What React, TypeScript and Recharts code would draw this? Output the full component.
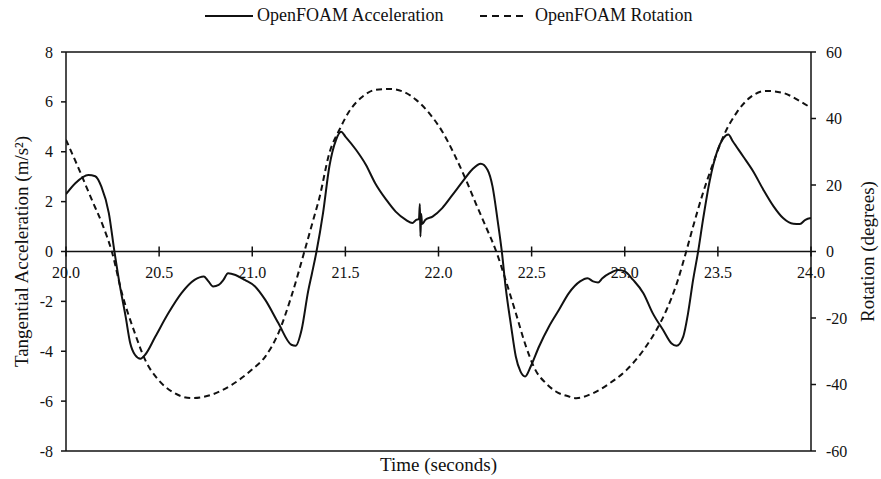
import { LineChart, Line, XAxis, YAxis, ReferenceLine, Label } from 'recharts';

// Tangential acceleration (m/s²), sampled in seconds
const accTime = [
  20.0, 20.05, 20.12, 20.157, 20.19, 20.23, 20.26, 20.29, 20.32, 20.345, 20.37, 20.4, 20.425,
  20.48, 20.55, 20.62, 20.69, 20.74, 20.765, 20.79, 20.82, 20.845, 20.87, 20.91, 20.96, 21.015,
  21.07, 21.14, 21.21, 21.233, 21.265, 21.3, 21.32, 21.345, 21.38, 21.414, 21.45, 21.477, 21.5,
  21.557, 21.61, 21.66, 21.72, 21.77, 21.825, 21.86, 21.88, 21.895, 21.9, 21.903, 21.907, 21.912,
  21.93, 21.968, 22.02, 22.075, 22.13, 22.18, 22.227, 22.263, 22.29, 22.317, 22.34, 22.36, 22.39,
  22.415, 22.44, 22.465, 22.495, 22.54, 22.594, 22.647, 22.7, 22.76, 22.8, 22.83, 22.857, 22.88,
  22.92, 22.964, 23.0, 23.045, 23.1, 23.15, 23.206, 23.25, 23.278, 23.314, 23.34, 23.367, 23.394,
  23.42, 23.457, 23.493, 23.53, 23.556, 23.58, 23.636, 23.69, 23.744, 23.8, 23.85, 23.905, 23.94,
  23.97, 24.0,
];
const accValue = [
  2.3, 2.74, 3.07, 3.02, 2.6, 1.54, 0, -1.4, -2.6, -3.68, -4.14, -4.3, -4.14,
  -3.41, -2.47, -1.67, -1.14, -1.0, -1.2, -1.4, -1.34, -1.14, -0.87, -0.94, -1.14, -1.4,
  -1.94, -2.87, -3.74, -3.78, -3.14, -1.6, -0.9, 0, 1.54, 3.41, 4.48, 4.8, 4.61,
  4.08, 3.48, 2.74, 2.07, 1.6, 1.27, 1.14, 1.27, 1.3, 1.9, 0.6, 1.5, 1.1,
  1.27, 1.4, 1.74, 2.27, 2.81, 3.28, 3.52, 3.28, 2.61, 1.27, 0, -1.4, -3.0,
  -4.21, -4.81, -5.01, -4.61, -3.81, -3.0, -2.34, -1.67, -1.2, -1.07, -1.2, -1.24, -1.07,
  -0.87, -0.74, -0.8, -1.14, -1.67, -2.47, -3.15, -3.68, -3.78, -3.41, -2.47, -1.14, 0,
  1.27, 2.87, 3.94, 4.55, 4.69, 4.42, 3.81, 3.21, 2.48, 1.8, 1.34, 1.11, 1.1,
  1.27, 1.34,
];

// Rotation (degrees)
const rotTime = [
  20.0, 20.067, 20.139, 20.2, 20.246, 20.3, 20.37, 20.425, 20.496, 20.568, 20.675, 20.78, 20.89,
  20.997, 21.07, 21.14, 21.21, 21.28, 21.33, 21.36, 21.414, 21.468, 21.52, 21.593, 21.66, 21.736,
  21.81, 21.88, 21.95, 22.02, 22.09, 22.147, 22.2, 22.254, 22.31, 22.36, 22.415, 22.47, 22.52,
  22.576, 22.63, 22.7, 22.74, 22.83, 22.92, 23.01, 23.1, 23.17, 23.224, 23.28, 23.33, 23.367,
  23.42, 23.475, 23.53, 23.6, 23.67, 23.76, 23.85, 23.94, 24.0,
];
const rotValue = [
  33.6, 25.1, 15.5, 7.5, 0, -12.5, -24.6, -32.6, -38.6, -42.1, -44.1, -43.1, -40.1,
  -35.6, -31.6, -24.6, -13.5, 0, 10, 16, 29.6, 36.6, 42.1, 46.6, 48.6, 48.9,
  48.1, 45.6, 41.6, 36.1, 28.6, 21.6, 14.5, 7.5, 0, -8.5, -18.5, -28.6, -35.6,
  -39.6, -42.1, -43.6, -44.1, -42.6, -39.6, -35.6, -29.7, -23.6, -17.6, -9.5, 0, 7.5,
  17.6, 26.6, 34.7, 41.7, 46.2, 48.3, 47.7, 45.2, 43.2,
];

const timeTicks = [20, 20.5, 21, 21.5, 22, 22.5, 23, 23.5, 24];
const accTicks = [-8, -6, -4, -2, 0, 2, 4, 6, 8];
const rotTicks = [-60, -40, -20, 0, 20, 40, 60];

const accData = accTime.map((t, i) => ({ t, acc: accValue[i] }));
const rotData = rotTime.map((t, i) => ({ t, rot: rotValue[i] }));

const W = 881;
const H = 479;
const TOP = 52;
const BOTTOM = 451;
const ZERO_Y = (TOP + BOTTOM) / 2;
const FONT = "'Liberation Serif', 'Times New Roman', serif";
const INK = '#111';

// x ticks sit on the zero line rather than on the bottom frame
const ZeroLineTick = (props: any) => {
  const { x, payload } = props;
  return (
    <g>
      <line x1={x} x2={x} y1={ZERO_Y - 5} y2={ZERO_Y + 5} stroke={INK} strokeWidth={1.5} />
      <text x={x} y={ZERO_Y + 26} textAnchor="middle" fontFamily={FONT} fontSize={16} fill={INK}>
        {Number(payload.value).toFixed(1)}
      </text>
    </g>
  );
};

const SideTick = (props: any) => {
  const { x, y, payload, textAnchor } = props;
  return (
    <text
      x={x}
      y={y}
      textAnchor={textAnchor}
      dominantBaseline="central"
      fontFamily={FONT}
      fontSize={16}
      fill={INK}
    >
      {payload.value}
    </text>
  );
};

const LegendRow = () => (
  <svg width={W} height={34} style={{ position: 'absolute', left: 0, top: 0 }}>
    <line x1={205} x2={253} y1={16} y2={16} stroke={INK} strokeWidth={2} />
    <text x={257} y={21} fontFamily={FONT} fontSize={18} fill={INK}>
      OpenFOAM Acceleration
    </text>
    <line x1={480} x2={528} y1={16} y2={16} stroke={INK} strokeWidth={2} strokeDasharray="7 5" />
    <text x={535} y={21} fontFamily={FONT} fontSize={18} fill={INK}>
      OpenFOAM Rotation
    </text>
  </svg>
);

export default function App() {
  return (
    <div style={{ position: 'absolute', left: 0, top: 0, width: W, height: H, background: '#fff' }}>
      <LineChart width={W} height={H} margin={{ top: TOP, right: 20, bottom: 0, left: 20 }}>
        <XAxis
          dataKey="t"
          type="number"
          domain={[20, 24]}
          ticks={timeTicks}
          allowDataOverflow
          height={H - BOTTOM}
          tickLine={false}
          axisLine={{ stroke: INK, strokeWidth: 1.5 }}
          tick={<ZeroLineTick />}
        >
          <Label
            content={() => (
              <text x={438.5} y={471} textAnchor="middle" fontFamily={FONT} fontSize={19} fill={INK}>
                Time (seconds)
              </text>
            )}
          />
        </XAxis>
        <YAxis
          yAxisId="acc"
          orientation="left"
          domain={[-8, 8]}
          ticks={accTicks}
          width={46}
          axisLine={{ stroke: INK, strokeWidth: 1.5 }}
          tickLine={{ stroke: INK, strokeWidth: 1.5 }}
          tickSize={5}
          tickMargin={8}
          tick={<SideTick />}
        >
          <Label
            content={() => (
              <text
                x={21}
                y={ZERO_Y}
                transform={`rotate(-90, 21, ${ZERO_Y})`}
                textAnchor="middle"
                dominantBaseline="central"
                fontFamily={FONT}
                fontSize={19}
                fill={INK}
              >
                Tangential Acceleration (m/s²)
              </text>
            )}
          />
        </YAxis>
        <YAxis
          yAxisId="rot"
          orientation="right"
          domain={[-60, 60]}
          ticks={rotTicks}
          width={50}
          axisLine={{ stroke: INK, strokeWidth: 1.5 }}
          tickLine={{ stroke: INK, strokeWidth: 1.5 }}
          tickSize={5}
          tickMargin={10}
          tick={<SideTick />}
        >
          <Label
            content={() => (
              <text
                x={867}
                y={ZERO_Y}
                transform={`rotate(-90, 867, ${ZERO_Y})`}
                textAnchor="middle"
                dominantBaseline="central"
                fontFamily={FONT}
                fontSize={19}
                fill={INK}
              >
                Rotation (degrees)
              </text>
            )}
          />
        </YAxis>
        <ReferenceLine yAxisId="acc" y={8} stroke={INK} strokeWidth={1.5} />
        <ReferenceLine yAxisId="acc" y={0} stroke={INK} strokeWidth={1.5} />
        <Line
          yAxisId="rot"
          data={rotData}
          dataKey="rot"
          type="monotone"
          stroke={INK}
          strokeWidth={2}
          strokeDasharray="6 4"
          dot={false}
          isAnimationActive={false}
        />
        <Line
          yAxisId="acc"
          data={accData}
          dataKey="acc"
          type="monotone"
          stroke={INK}
          strokeWidth={2}
          dot={false}
          isAnimationActive={false}
        />
      </LineChart>
      <LegendRow />
    </div>
  );
}
